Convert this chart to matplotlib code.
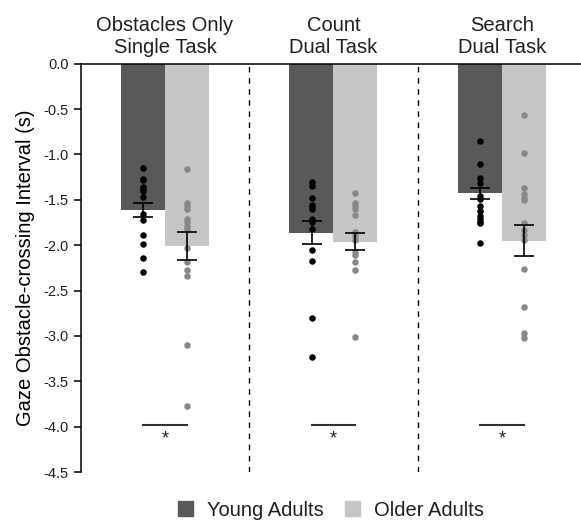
import numpy as np
import matplotlib
matplotlib.use("Agg")
import matplotlib.pyplot as plt
from matplotlib.patches import Patch

plt.rcParams.update({"font.family": ["Liberation Sans", "DejaVu Sans"], "text.color": "#231f20"})

conditions = ["Obstacles Only\nSingle Task", "Count\nDual Task", "Search\nDual Task"]
groups = ["Young Adults", "Older Adults"]

young_mean = [-1.61, -1.86, -1.43]
young_se = [0.08, 0.13, 0.065]
older_mean = [-2.01, -1.96, -1.95]
older_se = [0.155, 0.09, 0.17]

young_pts = [
    [-1.15, -1.27, -1.28, -1.36, -1.38, -1.40, -1.47, -1.66, -1.72, -1.89, -1.99, -2.14, -2.30],
    [-1.30, -1.345, -1.48, -1.555, -1.58, -1.60, -1.71, -1.74, -1.82, -2.05, -2.17, -2.80, -3.23],
    [-0.85, -1.11, -1.26, -1.31, -1.46, -1.49, -1.565, -1.62, -1.68, -1.71, -1.74, -1.76, -1.98],
]
older_pts = [
    [-1.165, -1.54, -1.57, -1.60, -1.71, -1.74, -1.79, -1.82, -2.03, -2.19, -2.27, -2.34, -3.10, -3.77],
    [-1.43, -1.54, -1.57, -1.60, -1.67, -1.85, -1.90, -1.94, -2.07, -2.11, -2.19, -2.27, -3.01],
    [-0.57, -0.98, -1.37, -1.44, -1.48, -1.50, -1.76, -1.83, -1.885, -1.94, -2.26, -2.68, -2.97, -3.02],
]
sig_y = -3.98

DARK, LIGHT = "#595959", "#c6c6c6"
off, w = 0.13, 0.262

fig = plt.figure(figsize=(5.81, 5.31), dpi=100)
ax = fig.add_axes([0.139, 0.111, 0.861, 0.769])

x = np.arange(len(conditions))
ax.bar(x - off, young_mean, width=w, color=DARK, zorder=1)
ax.bar(x + off, older_mean, width=w, color=LIGHT, zorder=1)

for i in range(len(conditions)):
    ax.scatter(np.full(len(young_pts[i]), x[i] - off), young_pts[i], s=22, color="black",
               linewidths=0, zorder=3)
    ax.scatter(np.full(len(older_pts[i]), x[i] + off), older_pts[i], s=22, color="#888888",
               linewidths=0, zorder=3)
ax.errorbar(x - off, young_mean, yerr=young_se, fmt="none", ecolor="black", elinewidth=1.2,
            capsize=7, capthick=1.2, zorder=4)
ax.errorbar(x + off, older_mean, yerr=older_se, fmt="none", ecolor="black", elinewidth=1.2,
            capsize=7, capthick=1.2, zorder=4)

# significance markers
for i in range(len(conditions)):
    ax.plot([x[i] - off, x[i] + off], [sig_y, sig_y], color="#333333", lw=1.5)
    ax.text(x[i], sig_y - 0.06, "*", ha="center", va="top", fontsize=13)

# separators
for xs in (0.5, 1.5):
    ax.axvline(xs, color="black", lw=1, ls=(0, (4, 4)))

for i, c in enumerate(conditions):
    ax.text(x[i], 0.07, c, ha="center", va="bottom", fontsize=14.5, linespacing=1.2,
            clip_on=False)

ax.set_xlim(-0.5, 2.47)
ax.set_ylim(-4.5, 0)
ax.set_yticks(np.arange(-4.5, 0.01, 0.5))
ax.set_yticklabels([f"{v:.1f}" for v in np.arange(-4.5, 0.01, 0.5)], fontsize=10.5,
                   color="#231f20")
ax.set_xticks([])
ax.spines["bottom"].set_visible(False)
ax.spines["right"].set_visible(False)
ax.spines["left"].set_linewidth(1.1)
ax.spines["top"].set_linewidth(1.1)
ax.tick_params(axis="y", direction="out", length=5, width=1.1)
ax.set_ylabel("Gaze Obstacle-crossing Interval (s)", fontsize=14.5, labelpad=6)

handles = [Patch(color=DARK, label=groups[0]), Patch(color=LIGHT, label=groups[1])]
fig.legend(handles=handles, loc="center", bbox_to_anchor=(331 / 581, 1 - 510 / 531), ncol=2,
           frameon=False, fontsize=14.5, handlelength=0.75, handleheight=0.75,
           columnspacing=1.05, handletextpad=0.7)

fig.savefig("out.png", dpi=100)
